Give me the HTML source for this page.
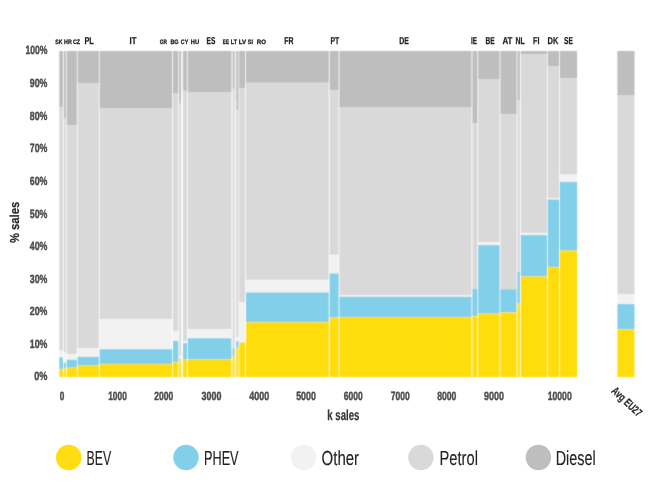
<!DOCTYPE html>
<html lang="en"><head><meta charset="utf-8"><title>EU27 car sales by powertrain</title>
<style>
html,body{margin:0;padding:0;background:#fff;}
body{width:650px;height:485px;overflow:hidden;}
svg{display:block;font-family:"Liberation Sans",sans-serif;text-rendering:geometricPrecision;}
</style></head><body>
<svg width="650" height="485" viewBox="0 0 650 485">
<rect width="650" height="485" fill="#fff"/>
<defs><filter id="soft" x="-2%" y="-2%" width="104%" height="104%"><feConvolveMatrix order="3" kernelMatrix="0.0225 0.1050 0.0225 0.1050 0.4900 0.1050 0.0225 0.1050 0.0225" divisor="1" edgeMode="none" preserveAlpha="false"/></filter></defs>
<g filter="url(#soft)">
<g>
<rect x="59.3" y="51.0" width="3.6" height="56.5" fill="#BEBEBE"/>
<rect x="59.3" y="107.5" width="3.6" height="243.2" fill="#D9D9D9"/>
<rect x="59.3" y="350.8" width="3.6" height="6.5" fill="#F2F2F2"/>
<rect x="59.3" y="357.3" width="3.6" height="11.7" fill="#82CFE9"/>
<rect x="59.3" y="369.0" width="3.6" height="8.1" fill="#FFDD10"/>
</g>
<g>
<rect x="63.8" y="51.0" width="2.1" height="67.0" fill="#BEBEBE"/>
<rect x="63.8" y="118.0" width="2.1" height="234.9" fill="#D9D9D9"/>
<rect x="63.8" y="352.8" width="2.1" height="9.9" fill="#F2F2F2"/>
<rect x="63.8" y="362.7" width="2.1" height="5.8" fill="#82CFE9"/>
<rect x="63.8" y="368.5" width="2.1" height="8.6" fill="#FFDD10"/>
</g>
<g>
<rect x="66.7" y="51.0" width="10.1" height="74.1" fill="#BEBEBE"/>
<rect x="66.7" y="125.1" width="10.1" height="229.0" fill="#D9D9D9"/>
<rect x="66.7" y="354.1" width="10.1" height="5.6" fill="#F2F2F2"/>
<rect x="66.7" y="359.7" width="10.1" height="8.0" fill="#82CFE9"/>
<rect x="66.7" y="367.7" width="10.1" height="9.4" fill="#FFDD10"/>
</g>
<g>
<rect x="77.6" y="51.0" width="21.2" height="32.5" fill="#BEBEBE"/>
<rect x="77.6" y="83.5" width="21.2" height="264.8" fill="#D9D9D9"/>
<rect x="77.6" y="348.2" width="21.2" height="8.7" fill="#F2F2F2"/>
<rect x="77.6" y="356.9" width="21.2" height="8.6" fill="#82CFE9"/>
<rect x="77.6" y="365.5" width="21.2" height="11.6" fill="#FFDD10"/>
</g>
<g>
<rect x="99.6" y="51.0" width="72.6" height="57.0" fill="#BEBEBE"/>
<rect x="99.6" y="108.0" width="72.6" height="210.9" fill="#D9D9D9"/>
<rect x="99.6" y="319.0" width="72.6" height="30.2" fill="#F2F2F2"/>
<rect x="99.6" y="349.2" width="72.6" height="14.7" fill="#82CFE9"/>
<rect x="99.6" y="363.9" width="72.6" height="13.2" fill="#FFDD10"/>
</g>
<g>
<rect x="173.0" y="51.0" width="5.3" height="42.6" fill="#BEBEBE"/>
<rect x="173.0" y="93.6" width="5.3" height="237.4" fill="#D9D9D9"/>
<rect x="173.0" y="331.0" width="5.3" height="9.9" fill="#F2F2F2"/>
<rect x="173.0" y="340.9" width="5.3" height="21.0" fill="#82CFE9"/>
<rect x="173.0" y="361.9" width="5.3" height="15.2" fill="#FFDD10"/>
</g>
<g>
<rect x="179.1" y="51.0" width="1.8" height="52.8" fill="#BEBEBE"/>
<rect x="179.1" y="103.8" width="1.8" height="252.2" fill="#D9D9D9"/>
<rect x="179.1" y="356.0" width="1.8" height="2.6" fill="#F2F2F2"/>
<rect x="179.1" y="358.6" width="1.8" height="1.6" fill="#82CFE9"/>
<rect x="179.1" y="360.2" width="1.8" height="16.9" fill="#FFDD10"/>
</g>
<g>
<rect x="183.1" y="51.0" width="3.8" height="39.8" fill="#BEBEBE"/>
<rect x="183.1" y="90.8" width="3.8" height="250.0" fill="#D9D9D9"/>
<rect x="183.1" y="340.9" width="3.8" height="2.3" fill="#F2F2F2"/>
<rect x="183.1" y="343.2" width="3.8" height="16.5" fill="#82CFE9"/>
<rect x="183.1" y="359.7" width="3.8" height="17.4" fill="#FFDD10"/>
</g>
<g>
<rect x="187.7" y="51.0" width="43.6" height="41.0" fill="#BEBEBE"/>
<rect x="187.7" y="92.0" width="43.6" height="237.4" fill="#D9D9D9"/>
<rect x="187.7" y="329.4" width="43.6" height="8.9" fill="#F2F2F2"/>
<rect x="187.7" y="338.3" width="43.6" height="21.2" fill="#82CFE9"/>
<rect x="187.7" y="359.5" width="43.6" height="17.6" fill="#FFDD10"/>
</g>
<g>
<rect x="232.8" y="51.0" width="1.7" height="37.8" fill="#BEBEBE"/>
<rect x="232.8" y="88.8" width="1.7" height="259.4" fill="#D9D9D9"/>
<rect x="232.8" y="348.2" width="1.7" height="8.4" fill="#82CFE9"/>
<rect x="232.8" y="356.6" width="1.7" height="20.5" fill="#FFDD10"/>
</g>
<g>
<rect x="236.3" y="51.0" width="2.2" height="59.2" fill="#BEBEBE"/>
<rect x="236.3" y="110.2" width="2.2" height="226.6" fill="#D9D9D9"/>
<rect x="236.3" y="336.8" width="2.2" height="4.2" fill="#F2F2F2"/>
<rect x="236.3" y="341.0" width="2.2" height="7.0" fill="#82CFE9"/>
<rect x="236.3" y="348.0" width="2.2" height="29.1" fill="#FFDD10"/>
</g>
<g>
<rect x="239.2" y="51.0" width="6.0" height="37.0" fill="#BEBEBE"/>
<rect x="239.2" y="88.0" width="6.0" height="214.4" fill="#D9D9D9"/>
<rect x="239.2" y="302.3" width="6.0" height="40.1" fill="#F2F2F2"/>
<rect x="239.2" y="342.4" width="6.0" height="34.7" fill="#FFDD10"/>
</g>
<g>
<rect x="246.0" y="51.0" width="82.7" height="31.8" fill="#BEBEBE"/>
<rect x="246.0" y="82.8" width="82.7" height="197.0" fill="#D9D9D9"/>
<rect x="246.0" y="279.9" width="82.7" height="12.6" fill="#F2F2F2"/>
<rect x="246.0" y="292.5" width="82.7" height="29.6" fill="#82CFE9"/>
<rect x="246.0" y="322.1" width="82.7" height="55.0" fill="#FFDD10"/>
</g>
<g>
<rect x="329.6" y="51.0" width="9.0" height="39.2" fill="#BEBEBE"/>
<rect x="329.6" y="90.2" width="9.0" height="164.6" fill="#D9D9D9"/>
<rect x="329.6" y="254.8" width="9.0" height="18.6" fill="#F2F2F2"/>
<rect x="329.6" y="273.4" width="9.0" height="44.2" fill="#82CFE9"/>
<rect x="329.6" y="317.6" width="9.0" height="59.5" fill="#FFDD10"/>
</g>
<g>
<rect x="339.4" y="51.0" width="132.1" height="56.0" fill="#BEBEBE"/>
<rect x="339.4" y="107.0" width="132.1" height="188.2" fill="#D9D9D9"/>
<rect x="339.4" y="295.2" width="132.1" height="1.6" fill="#F2F2F2"/>
<rect x="339.4" y="296.8" width="132.1" height="20.2" fill="#82CFE9"/>
<rect x="339.4" y="317.0" width="132.1" height="60.1" fill="#FFDD10"/>
</g>
<g>
<rect x="472.4" y="51.0" width="5.0" height="72.6" fill="#BEBEBE"/>
<rect x="472.4" y="123.6" width="5.0" height="165.2" fill="#D9D9D9"/>
<rect x="472.4" y="288.8" width="5.0" height="27.2" fill="#82CFE9"/>
<rect x="472.4" y="316.0" width="5.0" height="61.1" fill="#FFDD10"/>
</g>
<g>
<rect x="478.2" y="51.0" width="21.4" height="28.6" fill="#BEBEBE"/>
<rect x="478.2" y="79.6" width="21.4" height="162.6" fill="#D9D9D9"/>
<rect x="478.2" y="242.2" width="21.4" height="2.9" fill="#F2F2F2"/>
<rect x="478.2" y="245.1" width="21.4" height="68.6" fill="#82CFE9"/>
<rect x="478.2" y="313.7" width="21.4" height="63.4" fill="#FFDD10"/>
</g>
<g>
<rect x="500.4" y="51.0" width="16.2" height="63.3" fill="#BEBEBE"/>
<rect x="500.4" y="114.3" width="16.2" height="174.8" fill="#D9D9D9"/>
<rect x="500.4" y="289.2" width="16.2" height="23.2" fill="#82CFE9"/>
<rect x="500.4" y="312.4" width="16.2" height="64.7" fill="#FFDD10"/>
</g>
<g>
<rect x="517.4" y="51.0" width="2.5" height="49.5" fill="#BEBEBE"/>
<rect x="517.4" y="100.5" width="2.5" height="171.4" fill="#D9D9D9"/>
<rect x="517.4" y="271.9" width="2.5" height="31.7" fill="#82CFE9"/>
<rect x="517.4" y="303.6" width="2.5" height="73.5" fill="#FFDD10"/>
</g>
<g>
<rect x="520.8" y="51.0" width="26.1" height="3.5" fill="#BEBEBE"/>
<rect x="520.8" y="54.5" width="26.1" height="178.4" fill="#D9D9D9"/>
<rect x="520.8" y="232.9" width="26.1" height="2.2" fill="#F2F2F2"/>
<rect x="520.8" y="235.1" width="26.1" height="41.4" fill="#82CFE9"/>
<rect x="520.8" y="276.5" width="26.1" height="100.6" fill="#FFDD10"/>
</g>
<g>
<rect x="547.7" y="51.0" width="11.4" height="15.5" fill="#BEBEBE"/>
<rect x="547.7" y="66.5" width="11.4" height="131.4" fill="#D9D9D9"/>
<rect x="547.7" y="198.0" width="11.4" height="1.5" fill="#F2F2F2"/>
<rect x="547.7" y="199.5" width="11.4" height="67.4" fill="#82CFE9"/>
<rect x="547.7" y="266.9" width="11.4" height="110.2" fill="#FFDD10"/>
</g>
<g>
<rect x="559.9" y="51.0" width="17.2" height="27.1" fill="#BEBEBE"/>
<rect x="559.9" y="78.1" width="17.2" height="96.4" fill="#D9D9D9"/>
<rect x="559.9" y="174.5" width="17.2" height="7.4" fill="#F2F2F2"/>
<rect x="559.9" y="181.9" width="17.2" height="68.7" fill="#82CFE9"/>
<rect x="559.9" y="250.6" width="17.2" height="126.5" fill="#FFDD10"/>
</g>
<g>
<rect x="617.4" y="51.0" width="17.1" height="44.6" fill="#BEBEBE"/>
<rect x="617.4" y="95.6" width="17.1" height="198.6" fill="#D9D9D9"/>
<rect x="617.4" y="294.2" width="17.1" height="9.9" fill="#F2F2F2"/>
<rect x="617.4" y="304.1" width="17.1" height="25.3" fill="#82CFE9"/>
<rect x="617.4" y="329.4" width="17.1" height="47.7" fill="#FFDD10"/>
</g>
<g opacity="0.4"><rect x="234.6" y="51.0" width="1.3" height="50.0" fill="#BEBEBE"/><rect x="234.6" y="101.0" width="1.3" height="247.5" fill="#D9D9D9"/><rect x="234.6" y="348.5" width="1.3" height="28.6" fill="#FFDD10"/></g>
<g opacity="0.35"><rect x="231.2" y="51.0" width="1.6" height="38.0" fill="#BEBEBE"/><rect x="231.2" y="89.0" width="1.6" height="259.0" fill="#D9D9D9"/><rect x="231.2" y="348.0" width="1.6" height="9.0" fill="#82CFE9"/><rect x="231.2" y="357.0" width="1.6" height="20.1" fill="#FFDD10"/></g>
<g opacity="0.3"><rect x="181.5" y="51.0" width="1.0" height="44.0" fill="#BEBEBE"/><rect x="181.5" y="95.0" width="1.0" height="250.0" fill="#D9D9D9"/><rect x="181.5" y="345.0" width="1.0" height="32.1" fill="#FFDD10"/></g>
</g>
<text x="55.199999999999996" y="44.1" font-size="6.4" font-weight="bold" fill="#222" text-anchor="start" textLength="7.2" lengthAdjust="spacingAndGlyphs" stroke="#222" stroke-width="0.28" stroke-linejoin="round">SK</text>
<text x="64.1" y="44.1" font-size="6.4" font-weight="bold" fill="#222" text-anchor="start" textLength="7.7" lengthAdjust="spacingAndGlyphs" stroke="#222" stroke-width="0.28" stroke-linejoin="round">HR</text>
<text x="72.89999999999999" y="44.1" font-size="6.4" font-weight="bold" fill="#222" text-anchor="start" textLength="7.2" lengthAdjust="spacingAndGlyphs" stroke="#222" stroke-width="0.28" stroke-linejoin="round">CZ</text>
<text x="159.8" y="44.1" font-size="6.4" font-weight="bold" fill="#222" text-anchor="start" textLength="7.2" lengthAdjust="spacingAndGlyphs" stroke="#222" stroke-width="0.28" stroke-linejoin="round">GR</text>
<text x="170.4" y="44.1" font-size="6.4" font-weight="bold" fill="#222" text-anchor="start" textLength="8.2" lengthAdjust="spacingAndGlyphs" stroke="#222" stroke-width="0.28" stroke-linejoin="round">BG</text>
<text x="180.8" y="44.1" font-size="6.4" font-weight="bold" fill="#222" text-anchor="start" textLength="7.4" lengthAdjust="spacingAndGlyphs" stroke="#222" stroke-width="0.28" stroke-linejoin="round">CY</text>
<text x="190.8" y="44.1" font-size="6.4" font-weight="bold" fill="#222" text-anchor="start" textLength="8.4" lengthAdjust="spacingAndGlyphs" stroke="#222" stroke-width="0.28" stroke-linejoin="round">HU</text>
<text x="222.8" y="44.1" font-size="6.4" font-weight="bold" fill="#222" text-anchor="start" textLength="6.2" lengthAdjust="spacingAndGlyphs" stroke="#222" stroke-width="0.28" stroke-linejoin="round">EE</text>
<text x="230.8" y="44.1" font-size="6.4" font-weight="bold" fill="#222" text-anchor="start" textLength="6.2" lengthAdjust="spacingAndGlyphs" stroke="#222" stroke-width="0.28" stroke-linejoin="round">LT</text>
<text x="238.8" y="44.1" font-size="6.4" font-weight="bold" fill="#222" text-anchor="start" textLength="7.4" lengthAdjust="spacingAndGlyphs" stroke="#222" stroke-width="0.28" stroke-linejoin="round">LV</text>
<text x="247.8" y="44.1" font-size="6.4" font-weight="bold" fill="#222" text-anchor="start" textLength="5.2" lengthAdjust="spacingAndGlyphs" stroke="#222" stroke-width="0.28" stroke-linejoin="round">SI</text>
<text x="256.8" y="44.1" font-size="6.4" font-weight="bold" fill="#222" text-anchor="start" textLength="9.2" lengthAdjust="spacingAndGlyphs" stroke="#222" stroke-width="0.28" stroke-linejoin="round">RO</text>
<text x="84.4" y="44.1" font-size="10.0" font-weight="bold" fill="#222" text-anchor="start" textLength="9.3" lengthAdjust="spacingAndGlyphs" stroke="#222" stroke-width="0.25" stroke-linejoin="round">PL</text>
<text x="129.6" y="44.1" font-size="10.0" font-weight="bold" fill="#222" text-anchor="start" textLength="6.9" lengthAdjust="spacingAndGlyphs" stroke="#222" stroke-width="0.25" stroke-linejoin="round">IT</text>
<text x="206.6" y="44.1" font-size="10.0" font-weight="bold" fill="#222" text-anchor="start" textLength="8.8" lengthAdjust="spacingAndGlyphs" stroke="#222" stroke-width="0.25" stroke-linejoin="round">ES</text>
<text x="284.29999999999995" y="44.1" font-size="10.0" font-weight="bold" fill="#222" text-anchor="start" textLength="9.2" lengthAdjust="spacingAndGlyphs" stroke="#222" stroke-width="0.25" stroke-linejoin="round">FR</text>
<text x="330.5" y="44.1" font-size="10.0" font-weight="bold" fill="#222" text-anchor="start" textLength="8.7" lengthAdjust="spacingAndGlyphs" stroke="#222" stroke-width="0.25" stroke-linejoin="round">PT</text>
<text x="399.2" y="44.1" font-size="10.0" font-weight="bold" fill="#222" text-anchor="start" textLength="9.7" lengthAdjust="spacingAndGlyphs" stroke="#222" stroke-width="0.25" stroke-linejoin="round">DE</text>
<text x="471.0" y="44.1" font-size="10.0" font-weight="bold" fill="#222" text-anchor="start" textLength="6.0" lengthAdjust="spacingAndGlyphs" stroke="#222" stroke-width="0.25" stroke-linejoin="round">IE</text>
<text x="485.59999999999997" y="44.1" font-size="10.0" font-weight="bold" fill="#222" text-anchor="start" textLength="9.2" lengthAdjust="spacingAndGlyphs" stroke="#222" stroke-width="0.25" stroke-linejoin="round">BE</text>
<text x="502.4" y="44.1" font-size="10.0" font-weight="bold" fill="#222" text-anchor="start" textLength="10.0" lengthAdjust="spacingAndGlyphs" stroke="#222" stroke-width="0.25" stroke-linejoin="round">AT</text>
<text x="515.6" y="44.1" font-size="10.0" font-weight="bold" fill="#222" text-anchor="start" textLength="9.2" lengthAdjust="spacingAndGlyphs" stroke="#222" stroke-width="0.25" stroke-linejoin="round">NL</text>
<text x="533.0" y="44.1" font-size="10.0" font-weight="bold" fill="#222" text-anchor="start" textLength="6.4" lengthAdjust="spacingAndGlyphs" stroke="#222" stroke-width="0.25" stroke-linejoin="round">FI</text>
<text x="547.6" y="44.1" font-size="10.0" font-weight="bold" fill="#222" text-anchor="start" textLength="10.8" lengthAdjust="spacingAndGlyphs" stroke="#222" stroke-width="0.25" stroke-linejoin="round">DK</text>
<text x="564.0" y="44.1" font-size="10.0" font-weight="bold" fill="#222" text-anchor="start" textLength="8.8" lengthAdjust="spacingAndGlyphs" stroke="#222" stroke-width="0.25" stroke-linejoin="round">SE</text>
<text x="34.2" y="380.4" font-size="12" font-weight="bold" fill="#4d4d4d" text-anchor="start" textLength="13.2" lengthAdjust="spacingAndGlyphs" stroke="#4d4d4d" stroke-width="0.45" stroke-linejoin="round">0%</text>
<text x="29.799999999999997" y="347.9" font-size="12" font-weight="bold" fill="#4d4d4d" text-anchor="start" textLength="17.6" lengthAdjust="spacingAndGlyphs" stroke="#4d4d4d" stroke-width="0.45" stroke-linejoin="round">10%</text>
<text x="29.799999999999997" y="315.2" font-size="12" font-weight="bold" fill="#4d4d4d" text-anchor="start" textLength="17.6" lengthAdjust="spacingAndGlyphs" stroke="#4d4d4d" stroke-width="0.45" stroke-linejoin="round">20%</text>
<text x="29.799999999999997" y="282.6" font-size="12" font-weight="bold" fill="#4d4d4d" text-anchor="start" textLength="17.6" lengthAdjust="spacingAndGlyphs" stroke="#4d4d4d" stroke-width="0.45" stroke-linejoin="round">30%</text>
<text x="29.799999999999997" y="250.1" font-size="12" font-weight="bold" fill="#4d4d4d" text-anchor="start" textLength="17.6" lengthAdjust="spacingAndGlyphs" stroke="#4d4d4d" stroke-width="0.45" stroke-linejoin="round">40%</text>
<text x="29.799999999999997" y="217.5" font-size="12" font-weight="bold" fill="#4d4d4d" text-anchor="start" textLength="17.6" lengthAdjust="spacingAndGlyphs" stroke="#4d4d4d" stroke-width="0.45" stroke-linejoin="round">50%</text>
<text x="29.799999999999997" y="184.8" font-size="12" font-weight="bold" fill="#4d4d4d" text-anchor="start" textLength="17.6" lengthAdjust="spacingAndGlyphs" stroke="#4d4d4d" stroke-width="0.45" stroke-linejoin="round">60%</text>
<text x="29.799999999999997" y="152.3" font-size="12" font-weight="bold" fill="#4d4d4d" text-anchor="start" textLength="17.6" lengthAdjust="spacingAndGlyphs" stroke="#4d4d4d" stroke-width="0.45" stroke-linejoin="round">70%</text>
<text x="29.799999999999997" y="119.7" font-size="12" font-weight="bold" fill="#4d4d4d" text-anchor="start" textLength="17.6" lengthAdjust="spacingAndGlyphs" stroke="#4d4d4d" stroke-width="0.45" stroke-linejoin="round">80%</text>
<text x="29.799999999999997" y="87.1" font-size="12" font-weight="bold" fill="#4d4d4d" text-anchor="start" textLength="17.6" lengthAdjust="spacingAndGlyphs" stroke="#4d4d4d" stroke-width="0.45" stroke-linejoin="round">90%</text>
<text x="25.4" y="54.4" font-size="12" font-weight="bold" fill="#4d4d4d" text-anchor="start" textLength="22.0" lengthAdjust="spacingAndGlyphs" stroke="#4d4d4d" stroke-width="0.45" stroke-linejoin="round">100%</text>
<text x="59.8" y="400.3" font-size="12" font-weight="bold" fill="#4d4d4d" text-anchor="start" textLength="4.6" lengthAdjust="spacingAndGlyphs" stroke="#4d4d4d" stroke-width="0.45" stroke-linejoin="round">0</text>
<text x="108.2" y="400.3" font-size="12" font-weight="bold" fill="#4d4d4d" text-anchor="start" textLength="18.6" lengthAdjust="spacingAndGlyphs" stroke="#4d4d4d" stroke-width="0.45" stroke-linejoin="round">1000</text>
<text x="154.2" y="400.3" font-size="12" font-weight="bold" fill="#4d4d4d" text-anchor="start" textLength="19.0" lengthAdjust="spacingAndGlyphs" stroke="#4d4d4d" stroke-width="0.45" stroke-linejoin="round">2000</text>
<text x="201.6" y="400.3" font-size="12" font-weight="bold" fill="#4d4d4d" text-anchor="start" textLength="19.8" lengthAdjust="spacingAndGlyphs" stroke="#4d4d4d" stroke-width="0.45" stroke-linejoin="round">3000</text>
<text x="249.2" y="400.3" font-size="12" font-weight="bold" fill="#4d4d4d" text-anchor="start" textLength="20.0" lengthAdjust="spacingAndGlyphs" stroke="#4d4d4d" stroke-width="0.45" stroke-linejoin="round">4000</text>
<text x="296.2" y="400.3" font-size="12" font-weight="bold" fill="#4d4d4d" text-anchor="start" textLength="19.6" lengthAdjust="spacingAndGlyphs" stroke="#4d4d4d" stroke-width="0.45" stroke-linejoin="round">5000</text>
<text x="343.8" y="400.3" font-size="12" font-weight="bold" fill="#4d4d4d" text-anchor="start" textLength="19.0" lengthAdjust="spacingAndGlyphs" stroke="#4d4d4d" stroke-width="0.45" stroke-linejoin="round">6000</text>
<text x="390.8" y="400.3" font-size="12" font-weight="bold" fill="#4d4d4d" text-anchor="start" textLength="19.0" lengthAdjust="spacingAndGlyphs" stroke="#4d4d4d" stroke-width="0.45" stroke-linejoin="round">7000</text>
<text x="437.2" y="400.3" font-size="12" font-weight="bold" fill="#4d4d4d" text-anchor="start" textLength="19.2" lengthAdjust="spacingAndGlyphs" stroke="#4d4d4d" stroke-width="0.45" stroke-linejoin="round">8000</text>
<text x="484" y="400.3" font-size="12" font-weight="bold" fill="#4d4d4d" text-anchor="start" textLength="19.9" lengthAdjust="spacingAndGlyphs" stroke="#4d4d4d" stroke-width="0.45" stroke-linejoin="round">9000</text>
<text x="547.7" y="400.3" font-size="12" font-weight="bold" fill="#4d4d4d" text-anchor="start" textLength="24.0" lengthAdjust="spacingAndGlyphs" stroke="#4d4d4d" stroke-width="0.45" stroke-linejoin="round">10000</text>
<text x="327.3" y="420.3" font-size="14.6" font-weight="bold" fill="#383838" text-anchor="start" textLength="32.2" lengthAdjust="spacingAndGlyphs" stroke="#383838" stroke-width="0.25" stroke-linejoin="round">k sales</text>
<g transform="translate(18.7,243.1) rotate(-90)"><text x="0" y="0" font-size="13" font-weight="bold" fill="#2a2a2a" text-anchor="start" textLength="41.4" lengthAdjust="spacingAndGlyphs" stroke="#2a2a2a" stroke-width="0.2" stroke-linejoin="round">% sales</text></g>
<g transform="translate(610.8,391.8) rotate(43.4)"><text x="0" y="0" font-size="11.4" font-weight="bold" fill="#2a2a2a" text-anchor="start" textLength="37" lengthAdjust="spacingAndGlyphs" stroke="#2a2a2a" stroke-width="0.2" stroke-linejoin="round">Avg EU27</text></g>
<circle cx="68.7" cy="457.5" r="12.7" fill="#FFDD10"/>
<text x="86.5" y="465" font-size="20.3" font-weight="normal" fill="#222" text-anchor="start" textLength="24.7" lengthAdjust="spacingAndGlyphs" stroke="#222" stroke-width="0.12" stroke-linejoin="round">BEV</text>
<circle cx="186" cy="457.5" r="12.7" fill="#82CFE9"/>
<text x="204.0" y="465" font-size="20.3" font-weight="normal" fill="#222" text-anchor="start" textLength="34.6" lengthAdjust="spacingAndGlyphs" stroke="#222" stroke-width="0.12" stroke-linejoin="round">PHEV</text>
<circle cx="303.5" cy="457.5" r="12.7" fill="#F2F2F2"/>
<text x="321.6" y="465" font-size="20.3" font-weight="normal" fill="#222" text-anchor="start" textLength="37.5" lengthAdjust="spacingAndGlyphs" stroke="#222" stroke-width="0.12" stroke-linejoin="round">Other</text>
<circle cx="420.9" cy="457.5" r="12.7" fill="#D9D9D9"/>
<text x="439.6" y="465" font-size="20.3" font-weight="normal" fill="#222" text-anchor="start" textLength="38.3" lengthAdjust="spacingAndGlyphs" stroke="#222" stroke-width="0.12" stroke-linejoin="round">Petrol</text>
<circle cx="538.4" cy="457.5" r="12.7" fill="#BEBEBE"/>
<text x="555.7" y="465" font-size="20.3" font-weight="normal" fill="#222" text-anchor="start" textLength="40.0" lengthAdjust="spacingAndGlyphs" stroke="#222" stroke-width="0.12" stroke-linejoin="round">Diesel</text>
</svg>
</body></html>
